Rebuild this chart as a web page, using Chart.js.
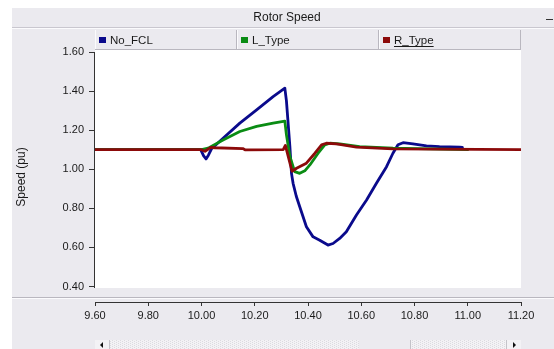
<!DOCTYPE html>
<html>
<head>
<meta charset="utf-8">
<script src="https://cdn.jsdelivr.net/npm/chart.js@4.4.1/dist/chart.umd.min.js"></script>
<style>
html,body{margin:0;padding:0;background:#fff;}
canvas{display:block;}
</style>
</head>
<body>
<canvas id="c" width="554" height="349"></canvas>
<script>
// ---- data ----
const chartTitle = 'Rotor Speed';
const yTitle = 'Speed (pu)';
const seriesNames = ['No_FCL', 'L_Type', 'R_Type'];
const xTicks = [9.6, 9.8, 10.0, 10.2, 10.4, 10.6, 10.8, 11.0, 11.2];
const yTicks = [0.4, 0.6, 0.8, 1.0, 1.2, 1.4, 1.6];

const noFclT = [9.60, 9.997, 10.008, 10.017, 10.026, 10.038, 10.081, 10.144, 10.207, 10.269, 10.313, 10.319, 10.332, 10.338, 10.344, 10.356, 10.369, 10.394, 10.419, 10.444, 10.475, 10.494, 10.519, 10.544, 10.582, 10.620, 10.657, 10.695, 10.719, 10.738, 10.757, 10.794, 10.845, 10.894, 10.970, 10.98];
const noFclV = [1.10, 1.10, 1.068, 1.053, 1.072, 1.105, 1.159, 1.236, 1.304, 1.372, 1.415, 1.35, 1.116, 0.979, 0.928, 0.862, 0.808, 0.706, 0.654, 0.637, 0.612, 0.620, 0.646, 0.680, 0.766, 0.843, 0.928, 1.013, 1.082, 1.125, 1.136, 1.130, 1.120, 1.116, 1.113, 1.112];

const lTypeT = [9.60, 10.0, 10.025, 10.081, 10.144, 10.207, 10.269, 10.313, 10.319, 10.332, 10.35, 10.369, 10.388, 10.407, 10.438, 10.463, 10.482, 10.519, 10.594, 10.719, 11.0];
const lTypeV = [1.10, 1.10, 1.108, 1.150, 1.193, 1.219, 1.236, 1.246, 1.176, 1.065, 0.988, 0.979, 0.992, 1.022, 1.082, 1.125, 1.133, 1.130, 1.116, 1.108, 1.10];

const rTypeT = [9.60, 10.0, 10.013, 10.035, 10.05, 10.155, 10.165, 10.307, 10.315, 10.34, 10.357, 10.394, 10.426, 10.451, 10.469, 10.507, 10.582, 10.719, 11.20];
const rTypeV = [1.10, 1.10, 1.092, 1.112, 1.11, 1.106, 1.099, 1.10, 1.122, 0.99, 1.005, 1.031, 1.082, 1.125, 1.133, 1.130, 1.113, 1.104, 1.10];

const seriesColors = ['#0a0a8c', '#0a8c14', '#8c0a0a'];

function pts(t, v) { return t.map((x, i) => ({ x: x, y: v[i] })); }

const PANEL_BG = '#ebeaef';
const FONT = '"Liberation Sans", Arial, sans-serif';

const decor = {
  id: 'decor',
  beforeDraw(chart) {
    const ctx = chart.ctx;
    const ca = chart.chartArea;
    const ys = chart.scales.y;
    const yBot = ys.getPixelForValue(yTicks[0]);
    ctx.save();
    ctx.fillStyle = '#ffffff';
    ctx.fillRect(0, 0, chart.width, chart.height);
    ctx.fillStyle = PANEL_BG;
    ctx.fillRect(12, 8, chart.width - 12, chart.height - 8);
    ctx.fillStyle = '#c9c7cf';
    ctx.fillRect(12, 27, chart.width - 12, 1);
    ctx.fillStyle = '#fbfbfd';
    ctx.fillRect(12, 28, chart.width - 12, 1);
    ctx.fillStyle = '#ffffff';
    ctx.fillRect(ca.left, 50, ca.right - ca.left, Math.round(yBot) + 1 - 50);
    ctx.fillStyle = '#b9b7bf';
    ctx.fillRect(12, 297, chart.width - 12, 1);
    ctx.fillStyle = '#fbfbfd';
    ctx.fillRect(12, 298, chart.width - 12, 1);
    ctx.restore();
  },
  afterDraw(chart) {
    const ctx = chart.ctx;
    const ca = chart.chartArea;
    const ys = chart.scales.y;
    ctx.save();
    ctx.strokeStyle = '#333';
    ctx.lineWidth = 1;
    ctx.beginPath();
    ctx.moveTo(Math.round(ca.left) - 0.5, Math.round(ys.getPixelForValue(yTicks[yTicks.length - 1])));
    ctx.lineTo(Math.round(ca.left) - 0.5, Math.round(ys.getPixelForValue(yTicks[0])) + 1);
    ctx.stroke();

    ctx.fillStyle = '#1a1a1a';
    ctx.font = '12px ' + FONT;
    ctx.textAlign = 'center';
    ctx.textBaseline = 'middle';
    ctx.fillText(chartTitle, 287, 18);
    ctx.fillStyle = '#333';
    ctx.fillRect(546, 19, 7, 1);

    const cellW = (ca.right - ca.left) / seriesNames.length;
    ctx.fillStyle = PANEL_BG;
    ctx.fillRect(ca.left, 30, ca.right - ca.left, 20);
    for (let i = 0; i < seriesNames.length; i++) {
      const x0 = Math.round(ca.left + i * cellW);
      const x1 = Math.round(ca.left + (i + 1) * cellW);
      ctx.fillStyle = '#fbfbfd';
      ctx.fillRect(x0, 30, 1, 20);
      ctx.fillStyle = '#b9b7bf';
      ctx.fillRect(x1 - 1, 30, 1, 20);
      ctx.fillRect(x0, 49, x1 - x0, 1);
      ctx.fillStyle = seriesColors[i];
      ctx.fillRect(x0 + 4, 37, 7, 6);
      ctx.fillStyle = '#1a1a1a';
      ctx.font = '11.5px ' + FONT;
      ctx.textAlign = 'left';
      ctx.textBaseline = 'middle';
      ctx.fillText(seriesNames[i], x0 + 15, 40.5);
      if (i === seriesNames.length - 1) {
        const w = ctx.measureText(seriesNames[i]).width;
        ctx.fillRect(x0 + 15, 46, w, 1);
      }
    }

    const sy = 340;
    ctx.fillStyle = '#f3f2f5';
    ctx.fillRect(ca.left, sy, ca.right - ca.left, chart.height - sy);
    ctx.fillStyle = '#dcdbe0';
    for (let x = ca.left + 15; x < ca.right - 15; x += 2) {
      for (let y = sy + ((x & 2) ? 1 : 0); y < chart.height; y += 2) ctx.fillRect(x, y, 1, 1);
    }
    ctx.fillStyle = '#ecebef';
    ctx.fillRect(359, sy, 51, chart.height - sy);
    ctx.fillStyle = '#c4c3c9';
    ctx.fillRect(410, sy, 1, chart.height - sy);
    ctx.fillStyle = '#f3f2f5';
    ctx.fillRect(ca.left, sy, 15, chart.height - sy);
    ctx.fillRect(ca.right - 15, sy, 15, chart.height - sy);
    ctx.fillStyle = '#c4c3c9';
    ctx.fillRect(ca.left + 14, sy, 1, chart.height - sy);
    ctx.fillRect(ca.right - 15, sy, 1, chart.height - sy);
    ctx.fillStyle = '#111';
    ctx.beginPath();
    ctx.moveTo(ca.left + 5, sy + 5); ctx.lineTo(ca.left + 8, sy + 2); ctx.lineTo(ca.left + 8, sy + 8); ctx.closePath(); ctx.fill();
    ctx.beginPath();
    ctx.moveTo(ca.right - 5, sy + 5); ctx.lineTo(ca.right - 8, sy + 2); ctx.lineTo(ca.right - 8, sy + 8); ctx.closePath(); ctx.fill();
    ctx.restore();
  }
};

const yMin = 1.6 - 1.2 * (302 - 52) / 234.5;

new Chart(document.getElementById('c'), {
  type: 'line',
  data: {
    datasets: [
      { label: seriesNames[0], data: pts(noFclT, noFclV), borderColor: seriesColors[0], order: 2 },
      { label: seriesNames[1], data: pts(lTypeT, lTypeV), borderColor: seriesColors[1], order: 1 },
      { label: seriesNames[2], data: pts(rTypeT, rTypeV), borderColor: seriesColors[2], order: 0 }
    ]
  },
  options: {
    responsive: false,
    animation: false,
    devicePixelRatio: 1,
    layout: { padding: { left: 12, right: 33, top: 52, bottom: 0 } },
    elements: {
      line: { borderWidth: 2.8, tension: 0, fill: false, borderJoinStyle: 'round', borderCapStyle: 'round' },
      point: { radius: 0, hoverRadius: 0 }
    },
    plugins: { legend: { display: false }, title: { display: false }, tooltip: { enabled: false } },
    events: [],
    scales: {
      x: {
        type: 'linear',
        min: xTicks[0],
        max: xTicks[xTicks.length - 1],
        afterBuildTicks: s => { s.ticks = xTicks.map(v => ({ value: v })); },
        afterFit: s => { s.height = 47; },
        ticks: {
          callback: v => Number(v).toFixed(2),
          font: { family: FONT, size: 11 },
          color: '#1a1a1a',
          padding: 3,
          maxRotation: 0,
          autoSkip: false
        },
        grid: { drawOnChartArea: false, drawTicks: true, tickLength: 4, color: '#333' },
        border: { display: true, color: '#333' }
      },
      y: {
        type: 'linear',
        min: yMin,
        max: yTicks[yTicks.length - 1],
        afterBuildTicks: s => { s.ticks = yTicks.map(v => ({ value: v })); },
        afterFit: s => { s.width = 83; },
        ticks: {
          callback: v => Number(v).toFixed(2),
          font: { family: FONT, size: 11 },
          color: '#1a1a1a',
          padding: 5
        },
        grid: { drawOnChartArea: false, drawTicks: true, tickLength: 6, color: '#333' },
        border: { display: false },
        title: {
          display: true,
          text: yTitle,
          font: { family: FONT, size: 12 },
          color: '#1a1a1a',
          padding: { top: 2, bottom: 0 }
        }
      }
    }
  },
  plugins: [decor]
});
</script>
</body>
</html>
